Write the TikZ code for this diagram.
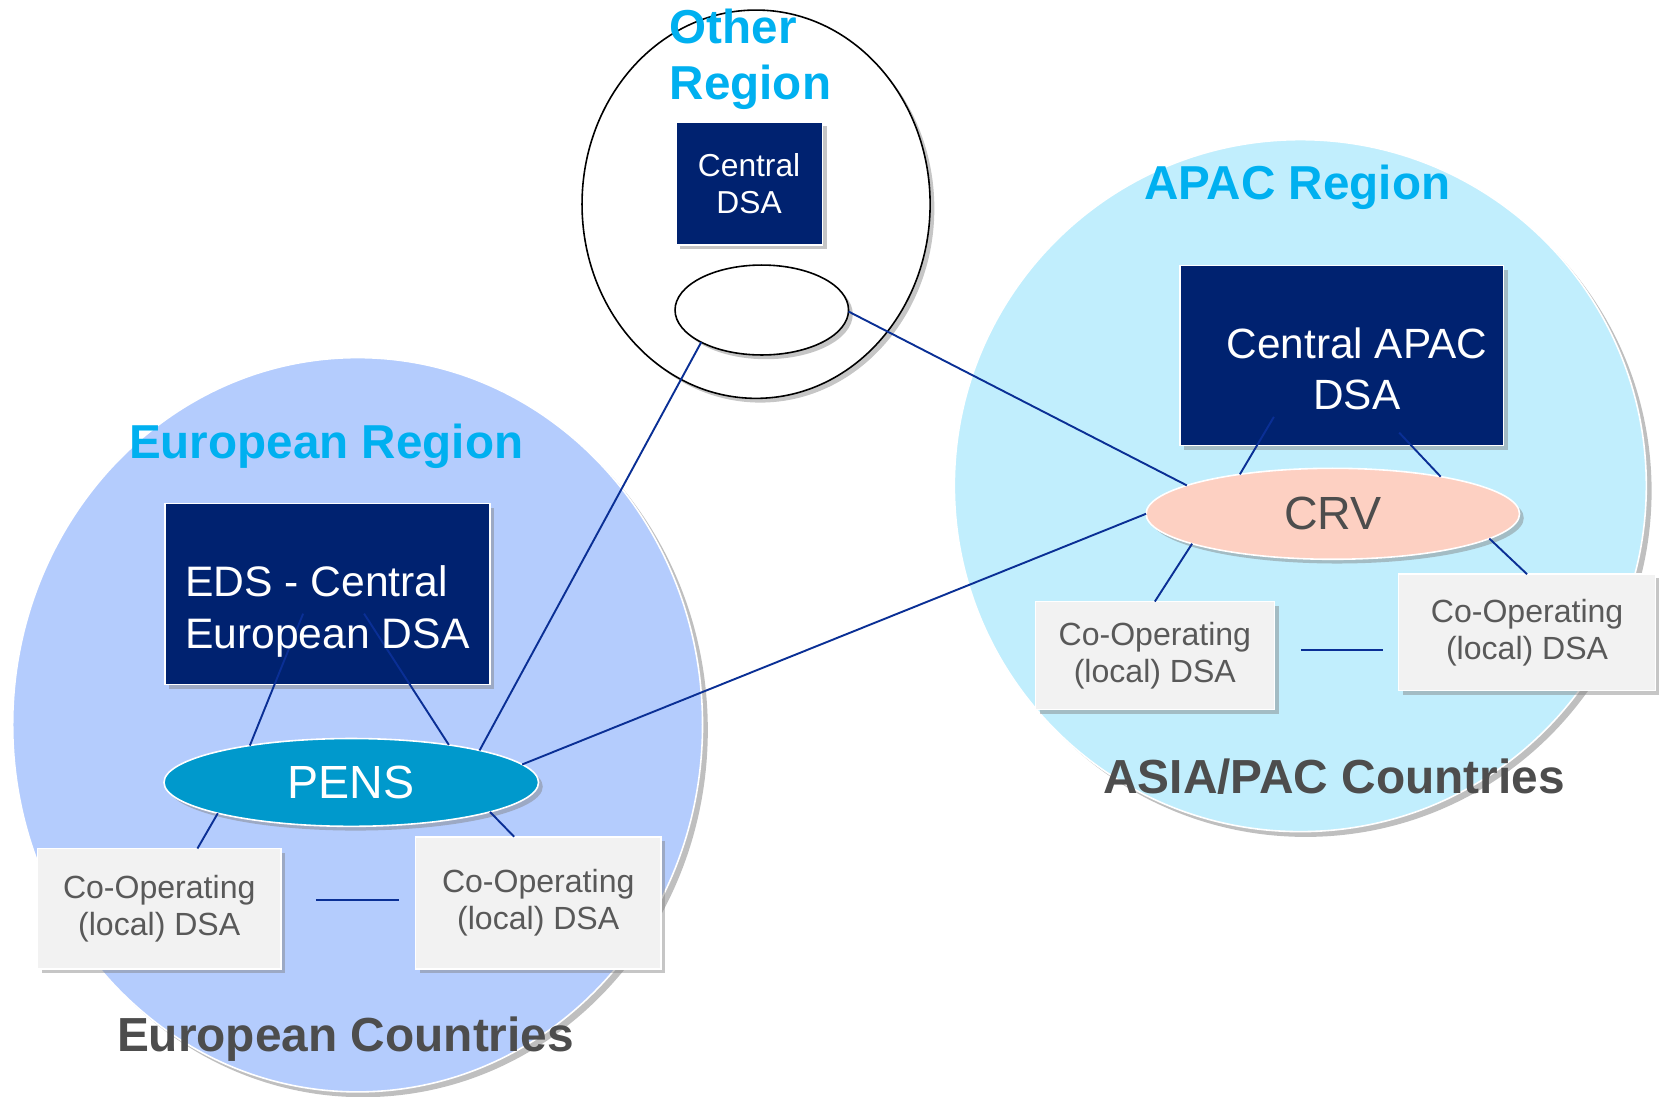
\documentclass[tikz,border=0pt]{standalone}
\usepackage{fontspec}
\setmainfont{Liberation Sans}
\usetikzlibrary{shapes.geometric,shadows,positioning}

\definecolor{dsanavy}{HTML}{002270}
\definecolor{eurofill}{HTML}{B4CCFD}
\definecolor{apacfill}{HTML}{C1EEFD}
\definecolor{pensfill}{HTML}{0099CC}
\definecolor{crvfill}{HTML}{FDD0C2}
\definecolor{coopfill}{HTML}{F2F2F2}
\definecolor{coopgray}{HTML}{595959}
\definecolor{titlecyan}{HTML}{00B0F0}
\definecolor{countrygray}{HTML}{4D4D4D}
\definecolor{linknavy}{HTML}{0A2F95}

\tikzset{
  boxshadow/.style={drop shadow={shadow xshift=4pt,shadow yshift=-4pt,opacity=0.45}},
  region/.style={ellipse,draw=white,line width=1.5pt,
    drop shadow={shadow xshift=5pt,shadow yshift=-5pt,opacity=0.5}},
  hub/.style={ellipse,draw=white,line width=1.5pt,boxshadow,font=\fontsize{44}{52}\selectfont},
  dsabox/.style={rectangle,fill=dsanavy,draw=white,line width=1.5pt,boxshadow,text=white},
  coop/.style={rectangle,fill=coopfill,draw=white,line width=1.5pt,boxshadow,text=coopgray,
    align=center,font=\fontsize{30.3}{35}\selectfont},
  regiontitle/.style={text=titlecyan,font=\bfseries\fontsize{45}{53.5}\selectfont},
  countrylabel/.style={text=countrygray,font=\bfseries\fontsize{45.2}{50}\selectfont},
  link/.style={draw=linknavy,line width=1.8pt}
}

\begin{document}
\begin{tikzpicture}[x=1pt,y=-1pt,every node/.style={inner sep=0pt,outer sep=0pt}]
  \useasboundingbox (0,0) rectangle (1568,1036);

  % regions
  \node[region,fill=eurofill,minimum width=652,minimum height=694] (europe) at (338,685) {};
  \node[region,fill=apacfill,minimum width=654,minimum height=654] (apac) at (1229,459) {};
  \node[ellipse,draw=black,fill=white,line width=1.5pt,boxshadow,
    minimum width=329,minimum height=367] (other) at (714.6,193) {};
  \node[ellipse,draw=black,fill=white,line width=1.5pt,boxshadow,
    minimum width=164,minimum height=85] (gate) at (720,293) {};

  % central DSAs
  \node[dsabox,minimum width=138.6,minimum height=116,align=center,
    font=\fontsize{30}{35.6}\selectfont] (otherdsa) at (708,173.5) {Central\\DSA};
  \node[dsabox,minimum width=307,minimum height=171] (eds) at (309.5,561.5) {};
  \node[dsabox,minimum width=306,minimum height=170] (apacdsa) at (1268,336) {};

  % hubs
  \node[hub,fill=pensfill,text=white,minimum width=354,minimum height=83] (pens) at (332,739.5) {PENS};
  \node[hub,fill=crvfill,text=countrygray,minimum width=353,minimum height=86] (crv) at (1259.7,485.6) {CRV};

  % local DSAs
  \node[coop,minimum width=230,minimum height=114] (eu1) at (150.5,859) {Co-Operating\\(local) DSA};
  \node[coop,minimum width=232,minimum height=125] (eu2) at (508.7,853.3) {Co-Operating\\(local) DSA};
  \node[coop,minimum width=226,minimum height=102] (ap1) at (1091.5,619.5) {Co-Operating\\(local) DSA};
  \node[coop,minimum width=243,minimum height=110] (ap2) at (1443.3,597.7) {Co-Operating\\(local) DSA};

  % connectors
  \draw[link] ([shift={(-23,18.5)}]eds.center) -- (pens.160.6);
  \draw[link] ([shift={(34.6,18.5)}]eds.center) -- (pens.21);
  \draw[link] (pens.193) -- ([shift={(36.1,0)}]eu1.north);
  \draw[link] (pens.348.4) -- ([shift={(-22.8,0)}]eu2.north);
  \draw[link] ([shift={(33,-8.2)}]eu1.east) -- ([shift={(-16,-2.5)}]eu2.west);
  \draw[link] (pens.14.1) -- (gate.208);
  \draw[link] (pens.6.9) -- (crv.180);
  \draw[link] (gate.359) -- (crv.169.4);
  \draw[link] ([shift={(-64,58)}]apacdsa.center) -- (crv.157.7);
  \draw[link] ([shift={(54.4,72.9)}]apacdsa.center) -- (crv.19.9);
  \draw[link] (crv.192.4) -- (ap1.north);
  \draw[link] (crv.351.1) -- (ap2.north);
  \draw[link] ([shift={(25,-5.2)}]ap1.east) -- ([shift={(-14.6,16.6)}]ap2.west);

  % texts in the big boxes (base = last line)
  \node[text=white,align=left,anchor=base west,font=\fontsize{40.3}{49}\selectfont] (edstext)
    at ([shift={(19,51.4)}]eds.west) {EDS - Central\\European DSA};
  \node[text=white,align=center,anchor=base,font=\fontsize{40}{49}\selectfont] (apactext)
    at ([shift={(14.5,51.5)}]apacdsa.center) {Central APAC\\DSA};

  % titles
  \node[regiontitle,align=left,anchor=base west] (othertitle) at (633,94.5) {Other\\Region};
  \node[regiontitle,anchor=base west] (eurotitle) at (122,433) {European Region};
  \node[regiontitle,anchor=base west] (apactitle) at (1081.6,189) {APAC Region};
  \node[countrylabel,anchor=base west] (eurocountries) at (110.6,994) {European Countries};
  \node[countrylabel,anchor=base west] (apaccountries) at (1042.8,750) {ASIA/PAC Countries};
\end{tikzpicture}
\end{document}
